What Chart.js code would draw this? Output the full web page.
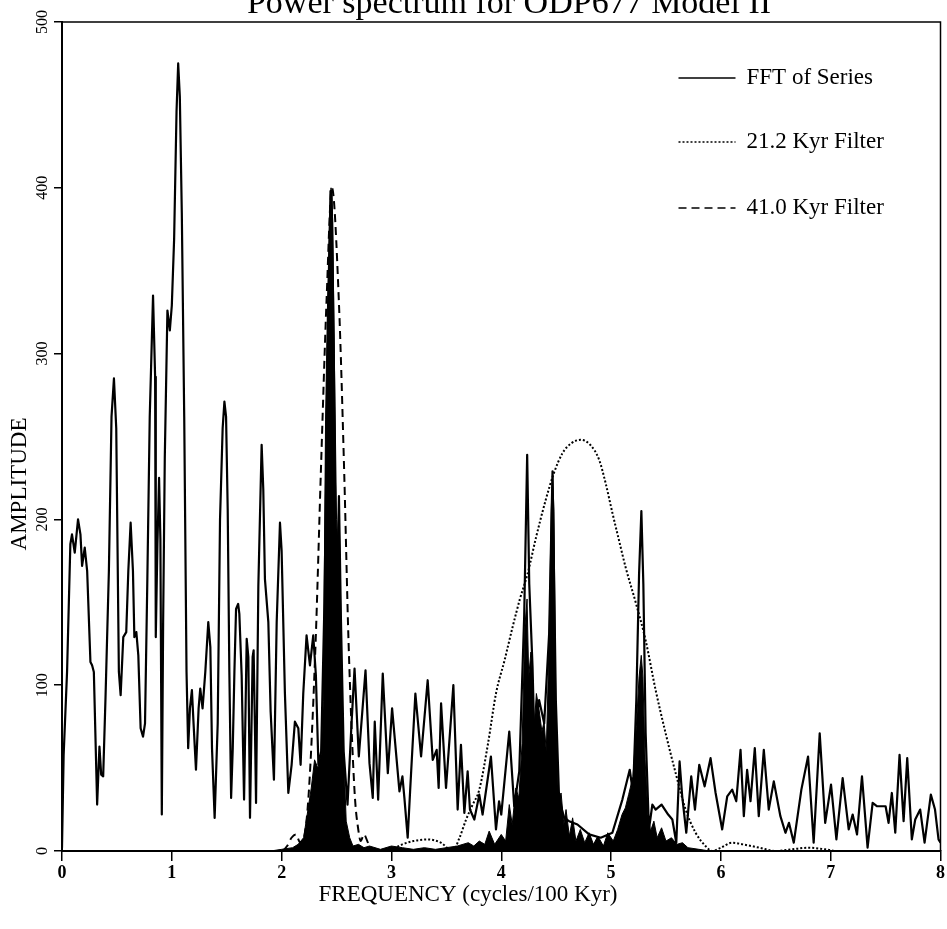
<!DOCTYPE html>
<html>
<head>
<meta charset="utf-8">
<title>Power spectrum for ODP677 Model II</title>
<script src="https://cdn.jsdelivr.net/npm/chart.js@4.4.1/dist/chart.umd.min.js"></script>
<style>
    html, body { margin: 0; padding: 0; background: #fff; }
    #wrap { width: 947px; height: 929px; }
</style>
</head>
<body>
<div id="wrap"><canvas id="spectrum" width="947" height="929"></canvas></div>
<script>
// Texts
const chartTitle = 'Power spectrum for ODP677 Model II';
const xTitle = 'FREQUENCY (cycles/100 Kyr)';
const yTitle = 'AMPLITUDE';
const seriesNames = ['FFT of Series', '21.2 Kyr Filter', '41.0 Kyr Filter'];

// Axis ticks
const yTickValues = [0, 100, 200, 300, 400, 500];
const yTickLabels = ['0', '100', '200', '300', '400', '500'];

// FFT of the series (frequency in cycles/100 Kyr, amplitude)
const fftFreq = [
    0.000, 0.015, 0.046, 0.076, 0.091, 0.116, 0.146, 0.168, 0.183, 0.207,
    0.229, 0.259, 0.274, 0.290, 0.320, 0.341, 0.357, 0.375, 0.396, 0.427,
    0.451, 0.473, 0.494, 0.518, 0.534, 0.558, 0.585, 0.604, 0.625, 0.646,
    0.659, 0.677, 0.695, 0.716, 0.738, 0.756, 0.777, 0.799, 0.829, 0.848,
    0.854, 0.869, 0.884, 0.896, 0.909, 0.921, 0.936, 0.960, 0.982, 1.000,
    1.021, 1.043, 1.058, 1.073, 1.091, 1.113, 1.134, 1.149, 1.165, 1.183,
    1.198, 1.220, 1.244, 1.259, 1.280, 1.305, 1.332, 1.351, 1.366, 1.390,
    1.418, 1.439, 1.463, 1.479, 1.494, 1.509, 1.524, 1.540, 1.555, 1.570,
    1.585, 1.604, 1.615, 1.636, 1.658, 1.682, 1.697, 1.712, 1.736, 1.745,
    1.758, 1.767, 1.788, 1.818, 1.833, 1.848, 1.879, 1.900, 1.930, 1.955,
    1.985, 2.000, 2.030, 2.061, 2.091, 2.121, 2.152, 2.173, 2.197, 2.227,
    2.258, 2.288, 2.312, 2.335, 2.360, 2.390, 2.420, 2.445, 2.455, 2.475,
    2.495, 2.505, 2.522, 2.540, 2.565, 2.600, 2.635, 2.664, 2.703, 2.764,
    2.800, 2.830, 2.848, 2.879, 2.921, 2.967, 3.006, 3.073, 3.100, 3.118,
    3.148, 3.170, 3.218, 3.270, 3.330, 3.376, 3.412, 3.430, 3.452, 3.497,
    3.564, 3.603, 3.633, 3.664, 3.694, 3.715, 3.755, 3.800, 3.830, 3.906,
    3.952, 3.980, 4.000, 4.073, 4.118, 4.164, 4.209, 4.236, 4.255, 4.285,
    4.300, 4.345, 4.391, 4.436, 4.467, 4.497, 4.527, 4.573, 4.618, 4.694,
    4.800, 4.906, 5.012, 5.103, 5.170, 5.200, 5.230, 5.255, 5.276, 5.294,
    5.315, 5.345, 5.376, 5.406, 5.460, 5.520, 5.558, 5.594, 5.624, 5.648,
    5.685, 5.730, 5.764, 5.803, 5.852, 5.906, 5.952, 6.012, 6.058, 6.103,
    6.140, 6.179, 6.209, 6.239, 6.270, 6.309, 6.345, 6.391, 6.436, 6.482,
    6.542, 6.588, 6.620, 6.664, 6.733, 6.794, 6.845, 6.900, 6.950, 7.003,
    7.052, 7.109, 7.164, 7.200, 7.240, 7.285, 7.336, 7.382, 7.420, 7.500,
    7.527, 7.557, 7.588, 7.627, 7.664, 7.697, 7.739, 7.770, 7.815, 7.855,
    7.912, 7.950, 7.982, 8.000
];
const fftAmp = [
    2, 58, 108, 185, 191, 180, 200, 191, 172, 183,
    169, 114, 112, 108, 28, 63, 46, 45, 92, 169,
    262, 285, 255, 108, 94, 129, 132, 169, 198, 169,
    129, 132, 118, 74, 69, 77, 163, 262, 335, 286,
    129, 185, 225, 188, 22, 138, 237, 326, 314, 329,
    369, 446, 475, 455, 385, 262, 108, 62, 86, 97,
    77, 49, 86, 98, 86, 108, 138, 123, 62, 20,
    77, 200, 255, 271, 262, 206, 108, 32, 62, 108,
    146, 149, 143, 106, 31, 128, 117, 20, 117, 121,
    70, 29, 160, 245, 218, 164, 138, 84, 43, 138,
    198, 181, 95, 35, 52, 78, 74, 52, 95, 130,
    112, 130, 106, 52, 60, 150, 300, 398, 398, 300,
    150, 160, 214, 140, 60, 28, 75, 110, 57, 109,
    53, 32, 78, 31, 107, 47, 86, 36, 45, 32,
    8, 36, 95, 57, 103, 55, 61, 38, 89, 38,
    100, 25, 64, 23, 48, 25, 19, 34, 22, 57,
    13, 30, 22, 72, 27, 48, 142, 239, 161, 111,
    71, 91, 77, 131, 229, 91, 31, 20, 18, 16,
    10, 8, 11, 31, 49, 35, 91, 167, 205, 161,
    71, 13, 28, 25, 28, 22, 19, 5, 54, 33,
    11, 45, 25, 52, 39, 56, 35, 13, 33, 37,
    30, 61, 21, 49, 30, 62, 21, 61, 25, 42,
    21, 11, 17, 5, 37, 57, 5, 71, 17, 40,
    7, 44, 13, 22, 10, 45, 2, 29, 27, 27,
    17, 35, 11, 58, 18, 56, 7, 19, 25, 5,
    34, 25, 7, 5
];

// Spectrum of the filtered series (solid black area)
const bandFreq = [
    0.00, 1.90, 2.00, 2.10, 2.15, 2.20, 2.24, 2.27, 2.30, 2.33,
    2.36, 2.38, 2.40, 2.418, 2.436, 2.45, 2.465, 2.48, 2.50, 2.51,
    2.522, 2.535, 2.55, 2.565, 2.588, 2.62, 2.65, 2.70, 2.75, 2.80,
    2.90, 3.00, 3.10, 3.20, 3.30, 3.40, 3.50, 3.60, 3.70, 3.75,
    3.80, 3.85, 3.89, 3.94, 4.00, 4.04, 4.073, 4.10, 4.133, 4.16,
    4.19, 4.215, 4.235, 4.25, 4.27, 4.285, 4.30, 4.32, 4.345, 4.37,
    4.39, 4.41, 4.435, 4.455, 4.467, 4.48, 4.497, 4.52, 4.545, 4.57,
    4.59, 4.62, 4.65, 4.68, 4.72, 4.76, 4.80, 4.84, 4.88, 4.93,
    4.97, 5.02, 5.06, 5.10, 5.13, 5.16, 5.20, 5.23, 5.255, 5.275,
    5.29, 5.31, 5.335, 5.36, 5.39, 5.42, 5.46, 5.50, 5.55, 5.60,
    5.65, 5.70, 5.80, 5.90, 8.00
];
const bandAmp = [
    0, 0, 1, 2, 4, 8, 25, 38, 55, 50,
    58, 90, 260, 330, 380, 400, 380, 300, 200, 185,
    214, 160, 100, 60, 18, 8, 3, 4, 2, 3,
    1, 3, 2, 1, 2, 1, 2, 3, 5, 3,
    6, 4, 12, 4, 10, 6, 28, 16, 38, 32,
    65, 135, 152, 105, 120, 105, 75, 95, 85, 72,
    78, 60, 125, 205, 228, 205, 85, 32, 35, 16,
    25, 9, 20, 6, 13, 5, 11, 4, 9, 3,
    11, 6, 13, 22, 26, 34, 45, 75, 105, 118,
    105, 55, 22, 12, 18, 8, 14, 6, 8, 4,
    5, 2, 1, 0, 0
];

// 21.2 Kyr filter response
const filter212Freq = [
    0.00, 2.90, 3.00, 3.10, 3.20, 3.33, 3.45, 3.557, 3.62, 3.68,
    3.74, 3.80, 3.88, 3.952, 4.03, 4.103, 4.17, 4.239, 4.32, 4.406,
    4.48, 4.558, 4.64, 4.724, 4.81, 4.891, 4.95, 5.012, 5.07, 5.133,
    5.224, 5.315, 5.406, 5.497, 5.588, 5.679, 5.77, 5.86, 5.92, 6.00,
    6.10, 6.20, 6.35, 6.50, 6.65, 6.80, 6.95, 7.05, 8.00
];
const filter212Amp = [
    0, 0, 1, 4, 6, 7, 5, 0, 8, 19,
    28, 37, 65, 95, 115, 135, 152, 167, 190, 212,
    228, 240, 246, 248, 245, 236, 222, 204, 188, 171,
    150, 127, 97, 71, 47, 25, 11, 3, 0, 2,
    5, 4, 2, 0, 1, 2, 1, 0, 0
];

// 41.0 Kyr filter response
const filter410Freq = [
    0.00, 2.00, 2.05, 2.09, 2.13, 2.17, 2.20, 2.248, 2.309, 2.357,
    2.409, 2.458, 2.521, 2.570, 2.609, 2.664, 2.700, 2.720, 2.750, 2.780,
    2.820, 8.00
];
const filter410Amp = [
    0, 0, 3, 8, 10, 5, 7, 36, 125, 228,
    332, 400, 332, 228, 127, 36, 12, 6, 10, 6,
    0, 0
];

function points(xs, ys) {
    return xs.map((x, i) => ({ x: x, y: ys[i] }));
}

const serif = '"Liberation Serif", "Times New Roman", serif';

// Title, axis titles, frame, rotated y labels and legend
const decorations = {
    id: 'decorations',
    afterDraw(chart) {
        const { ctx, chartArea, scales } = chart;
        ctx.save();

        // top and right sides of the frame
        ctx.strokeStyle = '#000';
        ctx.lineWidth = 1.5;
        ctx.setLineDash([]);
        ctx.beginPath();
        ctx.moveTo(chartArea.left, chartArea.top);
        ctx.lineTo(chartArea.right, chartArea.top);
        ctx.lineTo(chartArea.right, chartArea.bottom);
        ctx.stroke();

        ctx.fillStyle = '#000';
        ctx.font = '34px ' + serif;
        ctx.textAlign = 'center';
        ctx.textBaseline = 'alphabetic';
        ctx.fillText(chartTitle, 509, 13);

        ctx.font = '23px ' + serif;
        ctx.textBaseline = 'middle';
        ctx.fillText(xTitle, 468, 895);

        ctx.save();
        ctx.translate(20, 484);
        ctx.rotate(-Math.PI / 2);
        ctx.fillText(yTitle, 0, 0);
        ctx.restore();

        // y tick labels read upwards
        ctx.font = '16px ' + serif;
        yTickValues.forEach((v, i) => {
            const y = scales.y.getPixelForValue(v);
            ctx.save();
            ctx.translate(chartArea.left - 19, y);
            ctx.rotate(-Math.PI / 2);
            ctx.textAlign = 'center';
            ctx.textBaseline = 'middle';
            ctx.fillText(yTickLabels[i], 0, 0);
            ctx.restore();
        });

        // legend
        const rows = [56, 120, 186];
        chart.data.datasets.slice(0, 3).forEach((ds, i) => {
            const y = chartArea.top + rows[i];
            ctx.strokeStyle = '#000';
            ctx.lineWidth = 1.5;
            ctx.setLineDash(ds.borderDash || []);
            ctx.beginPath();
            ctx.moveTo(chartArea.right - 262, y);
            ctx.lineTo(chartArea.right - 205, y);
            ctx.stroke();
            ctx.setLineDash([]);
            ctx.font = '23px ' + serif;
            ctx.textAlign = 'left';
            ctx.textBaseline = 'middle';
            ctx.fillText(ds.label, chartArea.right - 194, y);
        });

        ctx.restore();
    }
};

new Chart(document.getElementById('spectrum'), {
    type: 'line',
    data: {
        datasets: [
            {
                label: seriesNames[0],
                data: points(fftFreq, fftAmp),
                borderColor: '#000',
                borderWidth: 2.2,
                borderJoinStyle: 'round',
                pointRadius: 0,
                fill: false,
                tension: 0
            },
            {
                label: seriesNames[1],
                data: points(filter212Freq, filter212Amp),
                borderColor: '#000',
                borderWidth: 2,
                borderDash: [2, 2],
                pointRadius: 0,
                fill: false,
                cubicInterpolationMode: 'monotone'
            },
            {
                label: seriesNames[2],
                data: points(filter410Freq, filter410Amp),
                borderColor: '#000',
                borderWidth: 2,
                borderDash: [8, 5],
                pointRadius: 0,
                fill: false,
                cubicInterpolationMode: 'monotone'
            },
            {
                label: 'Filtered spectrum',
                data: points(bandFreq, bandAmp),
                borderColor: '#000',
                backgroundColor: '#000',
                borderWidth: 1,
                pointRadius: 0,
                fill: 'origin',
                tension: 0
            }
        ]
    },
    options: {
        responsive: false,
        animation: false,
        layout: {
            padding: { top: 22, right: -2, bottom: 0, left: 0 }
        },
        plugins: {
            legend: { display: false },
            tooltip: { enabled: false },
            title: { display: false }
        },
        scales: {
            x: {
                type: 'linear',
                min: 0,
                max: 8,
                afterFit: function (scale) { scale.height = 78; },
                ticks: {
                    stepSize: 1,
                    color: '#000',
                    padding: 2,
                    font: { family: serif, size: 18, weight: 'bold' }
                },
                grid: {
                    drawOnChartArea: false,
                    drawTicks: true,
                    tickLength: 10,
                    color: '#000',
                    lineWidth: 1.5
                },
                border: { display: true, color: '#000', width: 2 }
            },
            y: {
                type: 'linear',
                min: 0,
                max: 500,
                afterFit: function (scale) { scale.width = 62; },
                ticks: {
                    stepSize: 100,
                    color: 'rgba(0,0,0,0)',
                    font: { family: serif, size: 16 }
                },
                grid: {
                    drawOnChartArea: false,
                    drawTicks: true,
                    tickLength: 8,
                    color: '#000',
                    lineWidth: 1.5
                },
                border: { display: true, color: '#000', width: 2 }
            }
        }
    },
    plugins: [decorations]
});
</script>
</body>
</html>
